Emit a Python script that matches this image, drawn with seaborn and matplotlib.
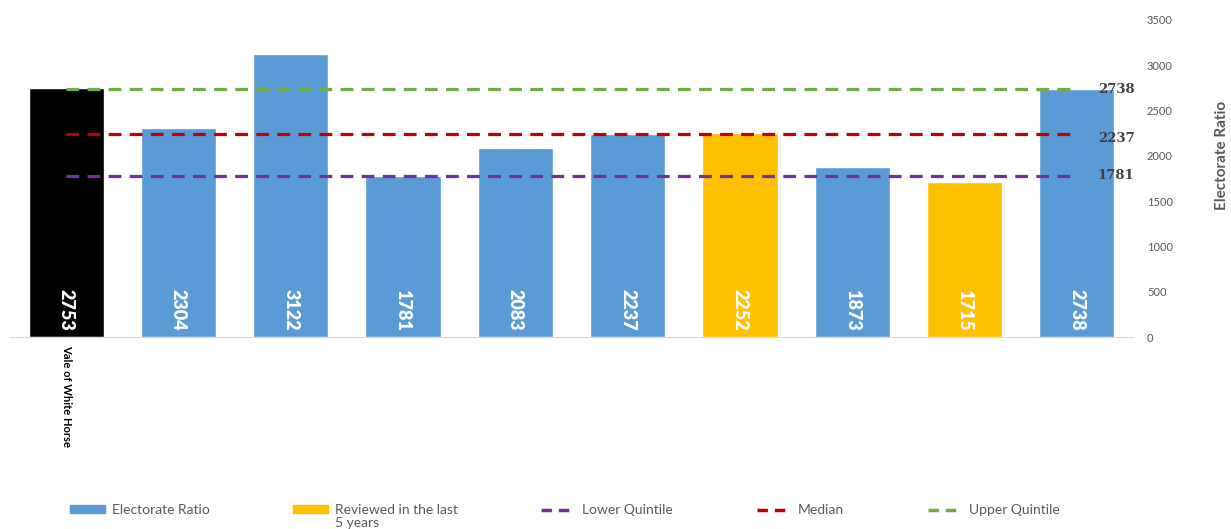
import matplotlib
matplotlib.use("Agg")
import matplotlib.pyplot as plt
import seaborn as sns
import pandas as pd
from matplotlib.patches import Patch
from matplotlib.lines import Line2D

# Datos
wards = ["Vale of White Horse", "", " ", "  ", "   ", "    ", "     ", "      ", "       ", "        "]
ratios = [2753, 2304, 3122, 1781, 2083, 2237, 2252, 1873, 1715, 2738]
groups = ["Vale", "Ratio", "Ratio", "Ratio", "Ratio", "Ratio", "Reviewed", "Ratio", "Reviewed", "Ratio"]
lower_quintile = 1781
median = 2237
upper_quintile = 2738

df = pd.DataFrame({"ward": wards, "ratio": ratios, "grupo": groups})

sns.set_style("white")
plt.rcParams["font.family"] = ["Lato", "DejaVu Sans"]

fig = plt.figure(figsize=(12.31, 5.29), dpi=100)
ax = fig.add_axes([10 / 1231, 1 - 337 / 529, 1123 / 1231, 317 / 529])

colores = {"Vale": "#000000", "Ratio": "#5B9BD5", "Reviewed": "#FFC000"}
sns.barplot(data=df, x="ward", y="ratio", hue="grupo", palette=colores, saturation=1,
            dodge=False, width=0.67, legend=False, ax=ax)

# Valores dentro de las barras
for i, v in enumerate(ratios):
    ax.text(i, 70, str(v), rotation=270, ha="center", va="bottom",
            color="white", fontsize=13, fontweight="heavy")

# Lineas de referencia
n = len(ratios)
for val, col in [(upper_quintile, "#70AD47"), (median, "#C00000"), (lower_quintile, "#7030A0")]:
    ax.plot([0, n - 1 - 0.06], [val, val], color=col, linestyle=(0, (4, 2.6)), linewidth=2.3)
for val, dy in [(upper_quintile, 0), (median, -40), (lower_quintile, 0)]:
    ax.text(9.35, val + dy, str(val), ha="center", va="center",
            fontsize=9.5, fontweight="bold", color="#404040", family="DejaVu Serif")

# Ejes
ax.set_xlim(-0.5, n - 0.5)
ax.set_ylim(0, 3500)
ax.set_yticks(range(0, 3501, 500))
ax.yaxis.tick_right()
ax.yaxis.set_label_position("right")
ax.tick_params(axis="y", length=0, labelsize=8, labelcolor="#595959", pad=10)
ax.tick_params(axis="x", length=0, pad=6)
ax.set_xticks(range(n))
ax.set_xticklabels(wards, rotation=270, fontsize=8, fontweight="bold", color="#000000")
ax.set_xlabel("")
ax.set_ylabel("Electorate Ratio", fontsize=11, fontweight="bold", color="#595959")
ax.yaxis.set_label_coords(1.073, 0.574)
for s in ["top", "left", "right"]:
    ax.spines[s].set_visible(False)
ax.spines["bottom"].set_color("#D9D9D9")

# Leyenda
handles = [
    Patch(color="#5B9BD5", label="Electorate Ratio"),
    Patch(color="#FFC000", label="Reviewed in the last"),
    Line2D([], [], color="#7030A0", linestyle=(0, (3, 2)), linewidth=2.5, label="Lower Quintile"),
    Line2D([], [], color="#C00000", linestyle=(0, (3, 2)), linewidth=2.5, label="Median"),
    Line2D([], [], color="#70AD47", linestyle=(0, (3, 2)), linewidth=2.5, label="Upper Quintile"),
]
leg = fig.legend(handles=handles, loc="center left", bbox_to_anchor=(70 / 1231, 1 - 510 / 529),
                 ncol=5, frameon=False, fontsize=10, handlelength=2.5, handleheight=0.5,
                 columnspacing=6.0, handletextpad=0.5, borderpad=0, borderaxespad=0)
for t in leg.get_texts():
    t.set_color("#595959")

# Segunda linea de la etiqueta "Reviewed in the last"
fig.canvas.draw()
bb = leg.get_texts()[1].get_window_extent()
fig.text(bb.x0 / 1231, (bb.y0 - 1) / 529, "5 years", ha="left", va="top",
         fontsize=10, color="#595959")

fig.savefig("out.png", dpi=100)
